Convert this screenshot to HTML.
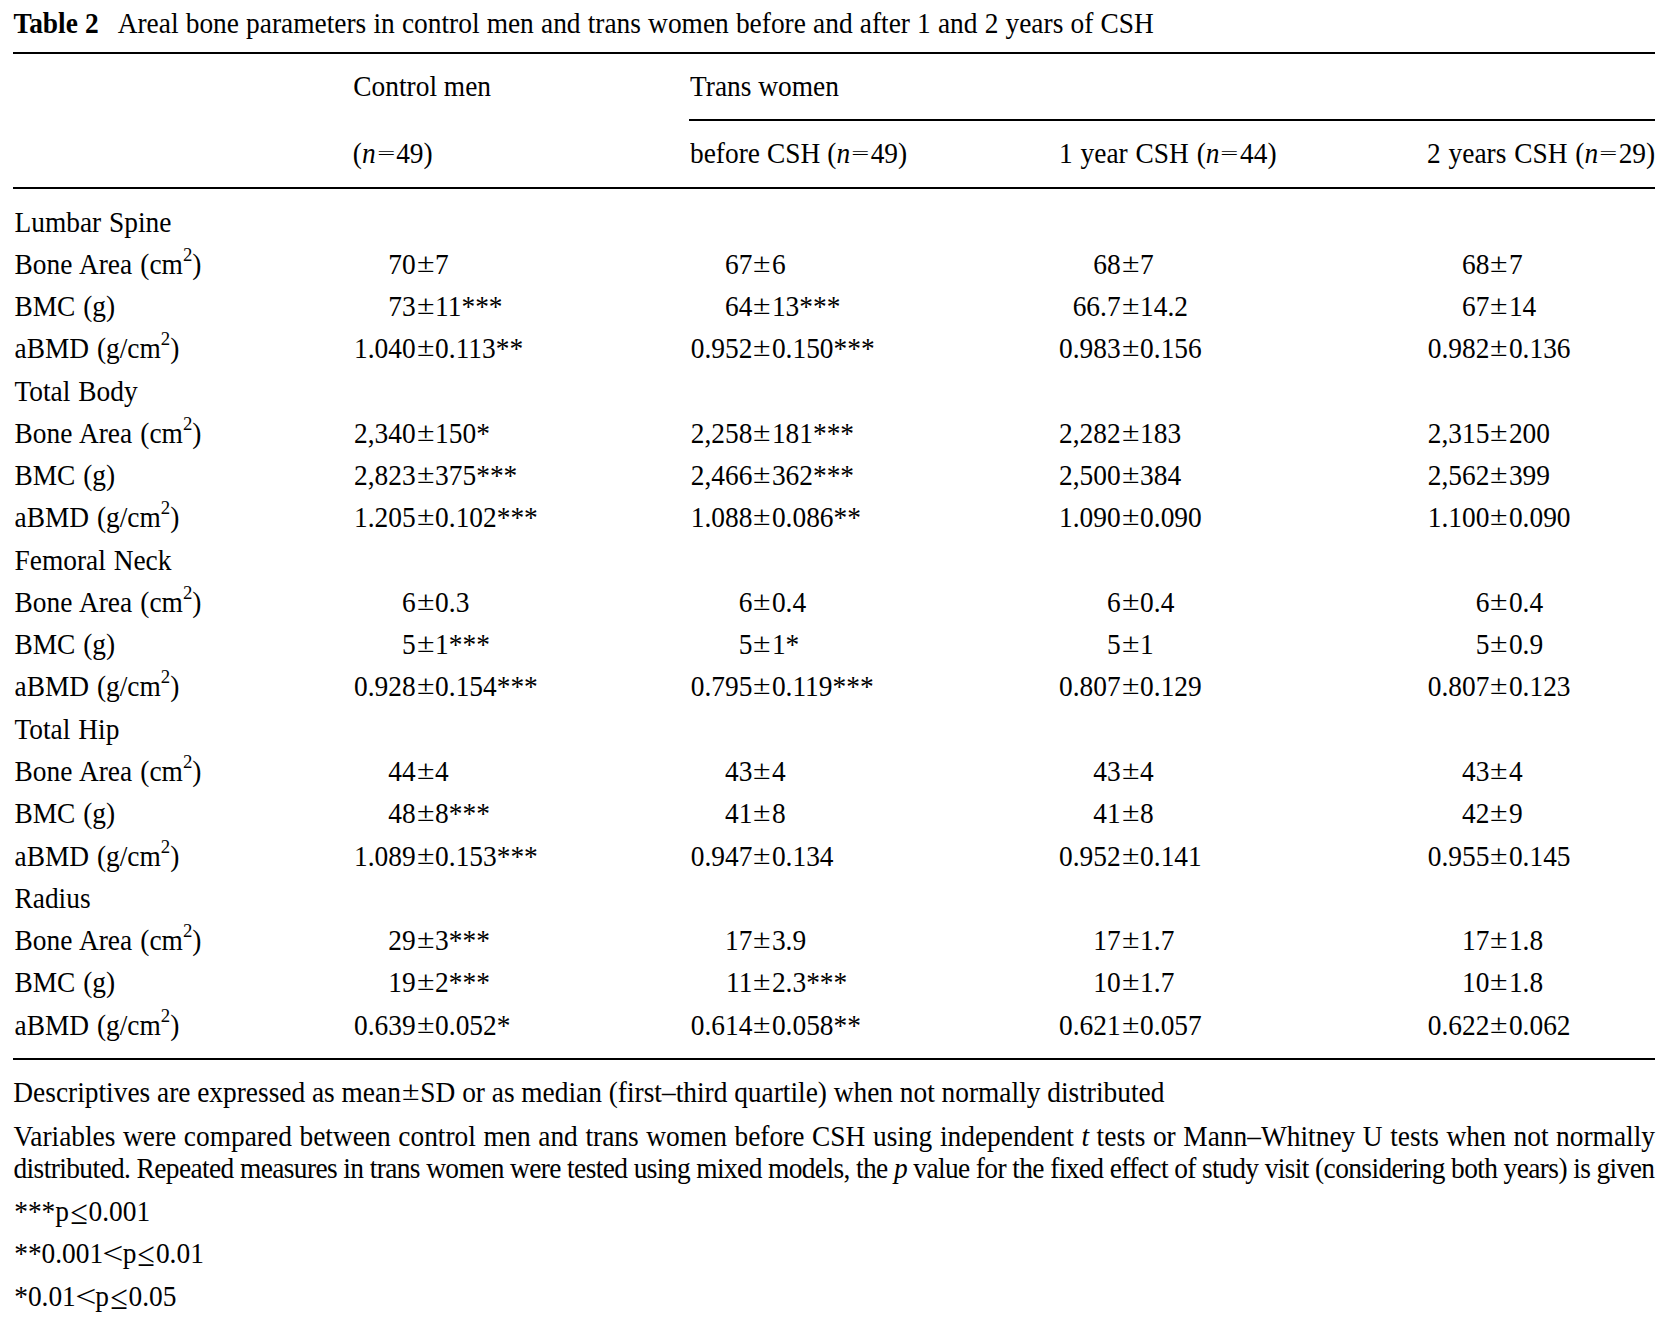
<!DOCTYPE html>
<html lang="en"><head><meta charset="utf-8"><title>Table 2</title>
<style>
html,body{margin:0;padding:0;background:#fff;}
body{width:1672px;height:1337px;position:relative;overflow:hidden;font-family:"Liberation Serif",serif;font-size:27.4px;color:#000;}
.t,.v{position:absolute;white-space:nowrap;line-height:32px;height:32px;}
.t,.v{transform:scaleY(1.05);transform-origin:0 25px;}
.v{width:0;}
.v .l{position:absolute;right:0;top:0;}
.v .rr{position:absolute;left:0;top:0;}
.r{position:absolute;background:#000;}
.m{display:inline-block;text-align:center;width:19.5px;}
.pm{transform:translateY(-0.8px) scale(1.165,0.92);}
.eq{width:20.5px;transform:scale(1.17,0.58);}
.lt{transform:scale(1.37,1.1);}
.le{transform:translate(0.6px,1px) scale(1.16,1.2);}
sup{font-size:18.8px;line-height:0;vertical-align:baseline;position:relative;top:-12.2px;}
</style></head>
<body>
<div class="t " style="left:13.40px;top:8.00px;word-spacing:0.32px;"><b>Table 2</b><span style="display:inline-block;width:19px"></span>Areal bone parameters in control men and trans women before and after 1 and 2 years of CSH</div>
<div class="r" style="left:13px;top:52px;width:1642px;height:2px"></div>
<div class="t " style="left:353.30px;top:71.00px;">Control men</div>
<div class="t " style="left:690.00px;top:71.00px;">Trans women</div>
<div class="r" style="left:689px;top:119px;width:966px;height:2px"></div>
<div class="t " style="left:352.80px;top:138.00px;">(<i>n</i><span class="m eq">=</span>49)</div>
<div class="t " style="left:690.00px;top:138.00px;word-spacing:0.2px;">before CSH (<i>n</i><span class="m eq">=</span>49)</div>
<div class="t " style="left:1059.00px;top:138.00px;word-spacing:1px;">1 year CSH (<i>n</i><span class="m eq">=</span>44)</div>
<div class="t " style="left:1427.00px;top:138.00px;word-spacing:1px;">2 years CSH (<i>n</i><span class="m eq">=</span>29)</div>
<div class="r" style="left:13px;top:187px;width:1642px;height:2px"></div>
<div class="t " style="left:14.50px;top:207.00px;word-spacing:1px;">Lumbar Spine</div>
<div class="t " style="left:14.50px;top:249.00px;word-spacing:1.3px;">Bone Area (cm<sup>2</sup>)</div>
<div class="v" style="left:415.60px;top:249.00px"><span class="l">70</span><span class="rr"><span class="m pm">±</span>7</span></div>
<div class="v" style="left:752.40px;top:249.00px"><span class="l">67</span><span class="rr"><span class="m pm">±</span>6</span></div>
<div class="v" style="left:1120.60px;top:249.00px"><span class="l">68</span><span class="rr"><span class="m pm">±</span>7</span></div>
<div class="v" style="left:1489.40px;top:249.00px"><span class="l">68</span><span class="rr"><span class="m pm">±</span>7</span></div>
<div class="t " style="left:14.50px;top:291.00px;word-spacing:1px;">BMC (g)</div>
<div class="v" style="left:415.60px;top:291.00px"><span class="l">73</span><span class="rr"><span class="m pm">±</span>11***</span></div>
<div class="v" style="left:752.40px;top:291.00px"><span class="l">64</span><span class="rr"><span class="m pm">±</span>13***</span></div>
<div class="v" style="left:1120.60px;top:291.00px"><span class="l">66.7</span><span class="rr"><span class="m pm">±</span>14.2</span></div>
<div class="v" style="left:1489.40px;top:291.00px"><span class="l">67</span><span class="rr"><span class="m pm">±</span>14</span></div>
<div class="t " style="left:14.50px;top:333.00px;word-spacing:1px;">aBMD (g/cm<sup>2</sup>)</div>
<div class="v" style="left:415.60px;top:333.00px"><span class="l">1.040</span><span class="rr"><span class="m pm">±</span>0.113**</span></div>
<div class="v" style="left:752.40px;top:333.00px"><span class="l">0.952</span><span class="rr"><span class="m pm">±</span>0.150***</span></div>
<div class="v" style="left:1120.60px;top:333.00px"><span class="l">0.983</span><span class="rr"><span class="m pm">±</span>0.156</span></div>
<div class="v" style="left:1489.40px;top:333.00px"><span class="l">0.982</span><span class="rr"><span class="m pm">±</span>0.136</span></div>
<div class="t " style="left:14.50px;top:376.00px;word-spacing:1px;">Total Body</div>
<div class="t " style="left:14.50px;top:418.00px;word-spacing:1.3px;">Bone Area (cm<sup>2</sup>)</div>
<div class="v" style="left:415.60px;top:418.00px"><span class="l">2,340</span><span class="rr"><span class="m pm">±</span>150*</span></div>
<div class="v" style="left:752.40px;top:418.00px"><span class="l">2,258</span><span class="rr"><span class="m pm">±</span>181***</span></div>
<div class="v" style="left:1120.60px;top:418.00px"><span class="l">2,282</span><span class="rr"><span class="m pm">±</span>183</span></div>
<div class="v" style="left:1489.40px;top:418.00px"><span class="l">2,315</span><span class="rr"><span class="m pm">±</span>200</span></div>
<div class="t " style="left:14.50px;top:460.00px;word-spacing:1px;">BMC (g)</div>
<div class="v" style="left:415.60px;top:460.00px"><span class="l">2,823</span><span class="rr"><span class="m pm">±</span>375***</span></div>
<div class="v" style="left:752.40px;top:460.00px"><span class="l">2,466</span><span class="rr"><span class="m pm">±</span>362***</span></div>
<div class="v" style="left:1120.60px;top:460.00px"><span class="l">2,500</span><span class="rr"><span class="m pm">±</span>384</span></div>
<div class="v" style="left:1489.40px;top:460.00px"><span class="l">2,562</span><span class="rr"><span class="m pm">±</span>399</span></div>
<div class="t " style="left:14.50px;top:502.00px;word-spacing:1px;">aBMD (g/cm<sup>2</sup>)</div>
<div class="v" style="left:415.60px;top:502.00px"><span class="l">1.205</span><span class="rr"><span class="m pm">±</span>0.102***</span></div>
<div class="v" style="left:752.40px;top:502.00px"><span class="l">1.088</span><span class="rr"><span class="m pm">±</span>0.086**</span></div>
<div class="v" style="left:1120.60px;top:502.00px"><span class="l">1.090</span><span class="rr"><span class="m pm">±</span>0.090</span></div>
<div class="v" style="left:1489.40px;top:502.00px"><span class="l">1.100</span><span class="rr"><span class="m pm">±</span>0.090</span></div>
<div class="t " style="left:14.50px;top:545.00px;word-spacing:1px;">Femoral Neck</div>
<div class="t " style="left:14.50px;top:587.00px;word-spacing:1.3px;">Bone Area (cm<sup>2</sup>)</div>
<div class="v" style="left:415.60px;top:587.00px"><span class="l">6</span><span class="rr"><span class="m pm">±</span>0.3</span></div>
<div class="v" style="left:752.40px;top:587.00px"><span class="l">6</span><span class="rr"><span class="m pm">±</span>0.4</span></div>
<div class="v" style="left:1120.60px;top:587.00px"><span class="l">6</span><span class="rr"><span class="m pm">±</span>0.4</span></div>
<div class="v" style="left:1489.40px;top:587.00px"><span class="l">6</span><span class="rr"><span class="m pm">±</span>0.4</span></div>
<div class="t " style="left:14.50px;top:629.00px;word-spacing:1px;">BMC (g)</div>
<div class="v" style="left:415.60px;top:629.00px"><span class="l">5</span><span class="rr"><span class="m pm">±</span>1***</span></div>
<div class="v" style="left:752.40px;top:629.00px"><span class="l">5</span><span class="rr"><span class="m pm">±</span>1*</span></div>
<div class="v" style="left:1120.60px;top:629.00px"><span class="l">5</span><span class="rr"><span class="m pm">±</span>1</span></div>
<div class="v" style="left:1489.40px;top:629.00px"><span class="l">5</span><span class="rr"><span class="m pm">±</span>0.9</span></div>
<div class="t " style="left:14.50px;top:671.00px;word-spacing:1px;">aBMD (g/cm<sup>2</sup>)</div>
<div class="v" style="left:415.60px;top:671.00px"><span class="l">0.928</span><span class="rr"><span class="m pm">±</span>0.154***</span></div>
<div class="v" style="left:752.40px;top:671.00px"><span class="l">0.795</span><span class="rr"><span class="m pm">±</span>0.119***</span></div>
<div class="v" style="left:1120.60px;top:671.00px"><span class="l">0.807</span><span class="rr"><span class="m pm">±</span>0.129</span></div>
<div class="v" style="left:1489.40px;top:671.00px"><span class="l">0.807</span><span class="rr"><span class="m pm">±</span>0.123</span></div>
<div class="t " style="left:14.50px;top:714.00px;word-spacing:1px;">Total Hip</div>
<div class="t " style="left:14.50px;top:756.00px;word-spacing:1.3px;">Bone Area (cm<sup>2</sup>)</div>
<div class="v" style="left:415.60px;top:756.00px"><span class="l">44</span><span class="rr"><span class="m pm">±</span>4</span></div>
<div class="v" style="left:752.40px;top:756.00px"><span class="l">43</span><span class="rr"><span class="m pm">±</span>4</span></div>
<div class="v" style="left:1120.60px;top:756.00px"><span class="l">43</span><span class="rr"><span class="m pm">±</span>4</span></div>
<div class="v" style="left:1489.40px;top:756.00px"><span class="l">43</span><span class="rr"><span class="m pm">±</span>4</span></div>
<div class="t " style="left:14.50px;top:798.00px;word-spacing:1px;">BMC (g)</div>
<div class="v" style="left:415.60px;top:798.00px"><span class="l">48</span><span class="rr"><span class="m pm">±</span>8***</span></div>
<div class="v" style="left:752.40px;top:798.00px"><span class="l">41</span><span class="rr"><span class="m pm">±</span>8</span></div>
<div class="v" style="left:1120.60px;top:798.00px"><span class="l">41</span><span class="rr"><span class="m pm">±</span>8</span></div>
<div class="v" style="left:1489.40px;top:798.00px"><span class="l">42</span><span class="rr"><span class="m pm">±</span>9</span></div>
<div class="t " style="left:14.50px;top:841.00px;word-spacing:1px;">aBMD (g/cm<sup>2</sup>)</div>
<div class="v" style="left:415.60px;top:841.00px"><span class="l">1.089</span><span class="rr"><span class="m pm">±</span>0.153***</span></div>
<div class="v" style="left:752.40px;top:841.00px"><span class="l">0.947</span><span class="rr"><span class="m pm">±</span>0.134</span></div>
<div class="v" style="left:1120.60px;top:841.00px"><span class="l">0.952</span><span class="rr"><span class="m pm">±</span>0.141</span></div>
<div class="v" style="left:1489.40px;top:841.00px"><span class="l">0.955</span><span class="rr"><span class="m pm">±</span>0.145</span></div>
<div class="t " style="left:14.50px;top:883.00px;word-spacing:1px;">Radius</div>
<div class="t " style="left:14.50px;top:925.00px;word-spacing:1.3px;">Bone Area (cm<sup>2</sup>)</div>
<div class="v" style="left:415.60px;top:925.00px"><span class="l">29</span><span class="rr"><span class="m pm">±</span>3***</span></div>
<div class="v" style="left:752.40px;top:925.00px"><span class="l">17</span><span class="rr"><span class="m pm">±</span>3.9</span></div>
<div class="v" style="left:1120.60px;top:925.00px"><span class="l">17</span><span class="rr"><span class="m pm">±</span>1.7</span></div>
<div class="v" style="left:1489.40px;top:925.00px"><span class="l">17</span><span class="rr"><span class="m pm">±</span>1.8</span></div>
<div class="t " style="left:14.50px;top:967.00px;word-spacing:1px;">BMC (g)</div>
<div class="v" style="left:415.60px;top:967.00px"><span class="l">19</span><span class="rr"><span class="m pm">±</span>2***</span></div>
<div class="v" style="left:752.40px;top:967.00px"><span class="l">11</span><span class="rr"><span class="m pm">±</span>2.3***</span></div>
<div class="v" style="left:1120.60px;top:967.00px"><span class="l">10</span><span class="rr"><span class="m pm">±</span>1.7</span></div>
<div class="v" style="left:1489.40px;top:967.00px"><span class="l">10</span><span class="rr"><span class="m pm">±</span>1.8</span></div>
<div class="t " style="left:14.50px;top:1010.00px;word-spacing:1px;">aBMD (g/cm<sup>2</sup>)</div>
<div class="v" style="left:415.60px;top:1010.00px"><span class="l">0.639</span><span class="rr"><span class="m pm">±</span>0.052*</span></div>
<div class="v" style="left:752.40px;top:1010.00px"><span class="l">0.614</span><span class="rr"><span class="m pm">±</span>0.058**</span></div>
<div class="v" style="left:1120.60px;top:1010.00px"><span class="l">0.621</span><span class="rr"><span class="m pm">±</span>0.057</span></div>
<div class="v" style="left:1489.40px;top:1010.00px"><span class="l">0.622</span><span class="rr"><span class="m pm">±</span>0.062</span></div>
<div class="r" style="left:13px;top:1058px;width:1642px;height:2px"></div>
<div class="t " style="left:13.30px;top:1077.00px;word-spacing:-0.08px;">Descriptives are expressed as mean<span class="m pm">±</span>SD or as median (first–third quartile) when not normally distributed</div>
<div class="t " id="p1" style="left:13.50px;top:1121.00px;word-spacing:0.76px;">Variables were compared between control men and trans women before CSH using independent <i>t</i> tests or Mann–Whitney U tests when not normally</div>
<div class="t " id="p2" style="left:13.50px;top:1153.00px;letter-spacing:-0.599px;">distributed. Repeated measures in trans women were tested using mixed models, the <i>p</i> value for the fixed effect of study visit (considering both years) is given</div>
<div class="t " style="left:14.20px;top:1196.00px;">***p<span class="m le">≤</span>0.001</div>
<div class="t " style="left:14.20px;top:1238.00px;">**0.001<span class="m lt">&lt;</span>p<span class="m le">≤</span>0.01</div>
<div class="t " style="left:14.20px;top:1281.00px;">*0.01<span class="m lt">&lt;</span>p<span class="m le">≤</span>0.05</div>
</body></html>
